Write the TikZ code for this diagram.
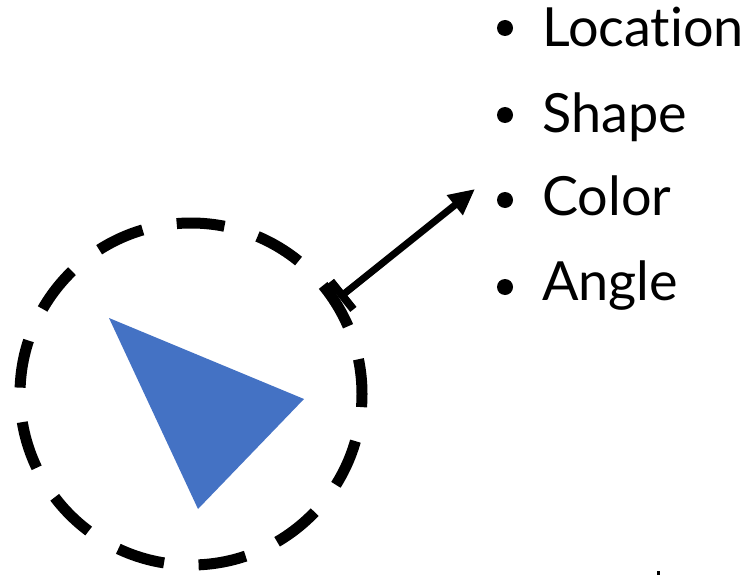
\documentclass[tikz,border=0pt]{standalone}
\usepackage{fontspec}
\setmainfont{Lato}[Ligatures=NoCommon]
\usepackage{tikz}
\usetikzlibrary{arrows.meta,positioning}
\definecolor{shapeBlue}{HTML}{4472C4}

\begin{document}
\begin{tikzpicture}[
  x=1pt, y=-1pt,
  ring/.style={circle, draw=black, line width=11pt, dash pattern=on 48pt off 34.65pt, dash phase=13pt, minimum size=342pt, inner sep=0pt},
  item/.style={font=\fontsize{54}{54}\selectfont, anchor=base west, inner sep=0pt},
  dot/.style={circle, fill=black, inner sep=0pt, minimum size=16pt},
  arrow/.style={{Bar[width=36pt, line width=8pt]}-{Triangle[length=26pt, width=24pt]}, line width=7pt}
]
\useasboundingbox (0,0) rectangle (754,575);
\node[ring] (ring) at (191,394) {};
\fill[shapeBlue] (109,318) -- (304,399) -- (198,509) -- cycle;
\node[item] (loc) at (542,47) {Location};
\node[item] (shape) at (542,132) {Shape};
\node[item] (color) at (542,215) {Color};
\node[item] (angle) at (542,300) {Angle};
\node[dot] (locDot) at (505,28) {};
\node[dot] (shapeDot) at (505,115) {};
\node[dot] (colorDot) at (505,200) {};
\node[dot] (angleDot) at (505,287) {};
\coordinate (tip) at (475,189);
\draw[arrow] (ring.33) -- (tip);
\fill (657,571) rectangle (660,575);
\end{tikzpicture}
\end{document}
